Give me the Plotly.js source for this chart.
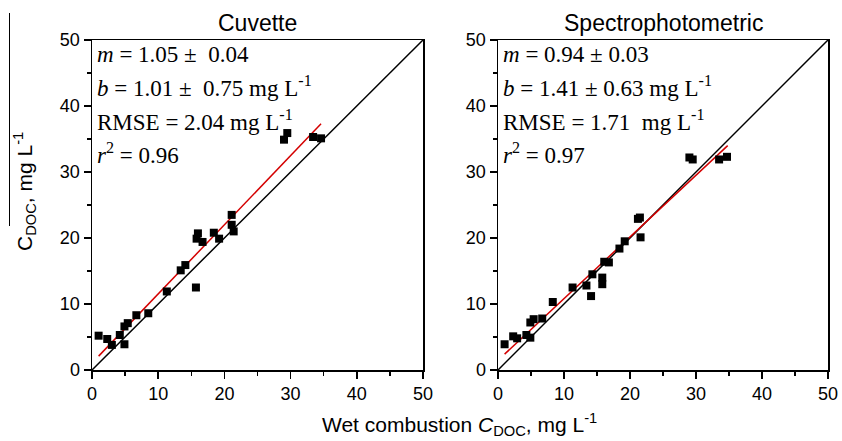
<!DOCTYPE html>
<html>
<head>
<meta charset="utf-8">
<script src="https://cdn.plot.ly/plotly-3.0.1.min.js"></script>
<style>html,body{margin:0;padding:0;background:#fff;}#chart{width:842px;height:441px;}</style>
</head>
<body>
<div id="chart"></div>
<script>
// Cuvette panel data
const cuvX = [1.0, 2.3, 3.0, 4.2, 4.9, 4.9, 5.4, 6.7, 8.5, 11.3, 13.4, 14.1, 15.7, 15.8, 16.0, 16.7, 18.4, 19.2, 21.1, 21.1, 21.4, 29.0, 29.5, 33.4, 34.6];
const cuvY = [5.2, 4.7, 3.8, 5.3, 3.9, 6.6, 7.1, 8.3, 8.6, 11.9, 15.1, 15.9, 12.5, 19.9, 20.7, 19.4, 20.8, 19.9, 23.5, 22.0, 21.0, 34.9, 35.9, 35.3, 35.1];
const cuvFitX = [1.0, 34.6];
const cuvFitY = [2.1, 37.3];

// Spectrophotometric panel data
const spcX = [1.0, 2.3, 2.9, 4.3, 4.9, 4.9, 5.4, 6.7, 8.3, 11.3, 13.4, 14.1, 14.3, 15.8, 15.8, 16.1, 16.8, 18.4, 19.2, 21.2, 21.5, 21.6, 29.0, 29.5, 33.5, 34.7];
const spcY = [3.9, 5.1, 4.8, 5.3, 4.9, 7.2, 7.7, 7.8, 10.3, 12.5, 12.8, 11.2, 14.5, 14.0, 13.0, 16.4, 16.3, 18.4, 19.5, 22.9, 23.1, 20.1, 32.2, 31.9, 31.9, 32.3];
const spcFitX = [1.0, 34.8];
const spcFitY = [2.4, 34.0];

// 1:1 line
const oneX = [0, 50];
const oneY = [0, 50];

// Texts
const panelTitles = ["Cuvette", "Spectrophotometric"];
const cuvStats = ["<i>m</i> = 1.05 \u00b1\u00a0 0.04", "<i>b</i> = 1.01 \u00b1\u00a0 0.75 mg L<sup>-1</sup>", "RMSE = 2.04 mg L<sup>-1</sup>", "<i>r</i><sup>2</sup> = 0.96"];
const spcStats = ["<i>m</i> = 0.94 \u00b1 0.03", "<i>b</i> = 1.41 \u00b1 0.63 mg L<sup>-1</sup>", "RMSE = 1.71 \u00a0mg L<sup>-1</sup>", "<i>r</i><sup>2</sup> = 0.97"];
const xTitle = "Wet combustion <i>C</i><sub>DOC</sub>, mg L<sup>-1</sup>";
const yTitle = "C<sub>DOC</sub>, mg L<sup>-1</sup>";
const tickVals = [0, 10, 20, 30, 40, 50];

const W = 842, H = 441;
const px = v => v / W;
const py = v => (H - v) / H;

function lineTrace(x, y, color, xa, ya) {
  return {x: x, y: y, xaxis: xa, yaxis: ya, mode: 'lines', type: 'scatter',
          line: {color: color, width: 1.5}, hoverinfo: 'skip', showlegend: false};
}
function ptsTrace(x, y, xa, ya) {
  return {x: x, y: y, xaxis: xa, yaxis: ya, mode: 'markers', type: 'scatter',
          marker: {symbol: 'square', size: 8, color: '#000'}, showlegend: false};
}

const data = [
  lineTrace(oneX, oneY, '#000', 'x', 'y'),
  lineTrace(cuvFitX, cuvFitY, '#d40000', 'x', 'y'),
  ptsTrace(cuvX, cuvY, 'x', 'y'),
  lineTrace(oneX, oneY, '#000', 'x2', 'y2'),
  lineTrace(spcFitX, spcFitY, '#d40000', 'x2', 'y2'),
  ptsTrace(spcX, spcY, 'x2', 'y2')
];

function axis(domain, anchor) {
  return {
    domain: domain, anchor: anchor, range: [0, 50], autorange: false,
    showline: true, mirror: true, linecolor: '#000', linewidth: 1.5,
    ticks: 'outside', ticklen: 7, tickwidth: 1.5, tickcolor: '#000',
    tickvals: tickVals, ticktext: tickVals.map(String),
    minor: {tickvals: [5, 15, 25, 35, 45], ticks: 'outside', ticklen: 4, tickwidth: 1.5, tickcolor: '#000'},
    showgrid: false, zeroline: false,
    tickfont: {family: 'Liberation Sans, Arial, sans-serif', size: 18, color: '#000'},
    fixedrange: true
  };
}

const annotations = [];
panelTitles.forEach((t, i) => {
  annotations.push({text: t, xref: 'paper', yref: 'paper', x: px(i === 0 ? 257.5 : 663), y: py(23),
    xanchor: 'center', yanchor: 'middle', showarrow: false,
    font: {family: 'Liberation Sans, Arial, sans-serif', size: 23, color: '#000'}});
});
const lineYs = [69, 103, 137, 170];
[[cuvStats, 95], [spcStats, 501]].forEach(([arr, x0]) => {
  arr.forEach((t, i) => {
    annotations.push({text: t, xref: 'paper', yref: 'paper', x: px(x0), y: py(lineYs[i]),
      xanchor: 'left', yanchor: 'bottom', showarrow: false,
      font: {family: 'Liberation Serif, Times New Roman, serif', size: 23, color: '#000'}});
  });
});
annotations.push({text: xTitle, xref: 'paper', yref: 'paper', x: px(459), y: py(424),
  xanchor: 'center', yanchor: 'middle', showarrow: false,
  font: {family: 'Liberation Sans, Arial, sans-serif', size: 21, color: '#000'}});
annotations.push({text: yTitle, xref: 'paper', yref: 'paper', x: px(24), y: py(192),
  xanchor: 'center', yanchor: 'middle', showarrow: false, textangle: -90,
  font: {family: 'Liberation Sans, Arial, sans-serif', size: 21, color: '#000'}});

const layout = {
  width: W, height: H,
  margin: {l: 0, r: 0, t: 0, b: 0},
  paper_bgcolor: '#fff', plot_bgcolor: '#fff',
  showlegend: false,
  xaxis: axis([px(92), px(423)], 'y'),
  yaxis: axis([py(370), py(40)], 'x'),
  xaxis2: axis([px(498), px(828)], 'y2'),
  yaxis2: axis([py(370), py(40)], 'x2'),
  annotations: annotations,
  shapes: [{type: 'line', xref: 'paper', yref: 'paper', x0: px(9.5), x1: px(9.5), y0: py(13), y1: py(226),
            line: {color: '#000', width: 1}}]
};

Plotly.newPlot('chart', data, layout, {displayModeBar: false, staticPlot: true});
</script>
</body>
</html>
